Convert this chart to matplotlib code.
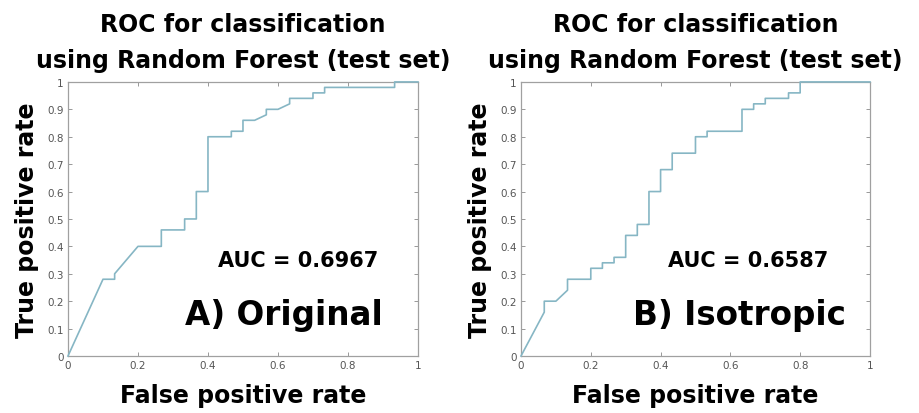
import matplotlib
matplotlib.use("Agg")
import matplotlib.pyplot as plt

plt.rcParams['font.family'] = ['DejaVu Sans']

# ROC points (30 negatives, 50 positives)
fpr_orig = [0, 0.1, 0.1333, 0.1333, 0.2, 0.2667, 0.2667, 0.3333, 0.3333, 0.3667, 0.3667,
            0.4, 0.4, 0.4667, 0.4667, 0.5, 0.5, 0.5333, 0.5667, 0.5667, 0.6, 0.6333,
            0.6333, 0.7, 0.7, 0.7333, 0.7333, 0.9333, 0.9333, 1.0]
tpr_orig = [0, 0.28, 0.28, 0.30, 0.40, 0.40, 0.46, 0.46, 0.50, 0.50, 0.60,
            0.60, 0.80, 0.80, 0.82, 0.82, 0.86, 0.86, 0.88, 0.90, 0.90, 0.92,
            0.94, 0.94, 0.96, 0.96, 0.98, 0.98, 1.0, 1.0]

fpr_iso = [0, 0.0667, 0.0667, 0.1, 0.1333, 0.1333, 0.2, 0.2, 0.2333, 0.2333, 0.2667,
           0.2667, 0.3, 0.3, 0.3333, 0.3333, 0.3667, 0.3667, 0.4, 0.4, 0.4333, 0.4333,
           0.5, 0.5, 0.5333, 0.5333, 0.6333, 0.6333, 0.6667, 0.6667, 0.7, 0.7,
           0.7667, 0.7667, 0.8, 0.8, 1.0]
tpr_iso = [0, 0.16, 0.20, 0.20, 0.24, 0.28, 0.28, 0.32, 0.32, 0.34, 0.34,
           0.36, 0.36, 0.44, 0.44, 0.48, 0.48, 0.60, 0.60, 0.68, 0.68, 0.74,
           0.74, 0.80, 0.80, 0.82, 0.82, 0.90, 0.90, 0.92, 0.92, 0.94,
           0.94, 0.96, 0.96, 1.0, 1.0]

auc_labels = ["AUC = 0.6967", "AUC = 0.6587"]
panel_labels = ["A) Original", "B) Isotropic"]
title = "ROC for classification\nusing Random Forest (test set)"
ticks = [0, 0.1, 0.2, 0.3, 0.4, 0.5, 0.6, 0.7, 0.8, 0.9, 1]
xticks = [0, 0.2, 0.4, 0.6, 0.8, 1]

fig = plt.figure(figsize=(9.2, 4.14), dpi=100)
ax1 = fig.add_axes([0.0739, 0.1377, 0.3804, 0.662])
ax2 = fig.add_axes([0.5663, 0.1377, 0.3793, 0.662])

for ax, fpr, tpr, auc, lab in zip([ax1, ax2], [fpr_orig, fpr_iso], [tpr_orig, tpr_iso],
                                  auc_labels, panel_labels):
    ax.plot(fpr, tpr, color='#86b6c4', lw=1.2, clip_on=False, zorder=5)
    ax.set_xlim(0, 1)
    ax.set_ylim(0, 1)
    ax.set_xticks(xticks)
    ax.set_xticklabels([f"{t:g}" for t in xticks])
    ax.set_yticks(ticks)
    ax.set_yticklabels([f"{t:g}" for t in ticks])
    ax.tick_params(direction='in', top=True, right=True, length=3, width=0.6,
                   color='#888888', labelcolor='#555555', labelsize=7.5, pad=3)
    for s in ax.spines.values():
        s.set_color('#a0a0a0')
        s.set_linewidth(0.9)
    ax.set_title(title, fontsize=17, fontweight='bold', linespacing=1.6, pad=11)
    ax.set_xlabel("False positive rate", fontsize=17, fontweight='bold', labelpad=9)
    ax.set_ylabel("True positive rate", fontsize=17, fontweight='bold', labelpad=6)
    ax.text(0.43, 0.33, auc, fontsize=15, fontweight='bold', ha='left', va='baseline')
    ax.text(0.335, 0.116, lab, fontsize=23.5, fontweight='bold', ha='left', va='baseline')

ax2.texts[-2].set_x(0.422)
ax2.texts[-1].set_x(0.322)

fig.savefig("out.png", dpi=100)
